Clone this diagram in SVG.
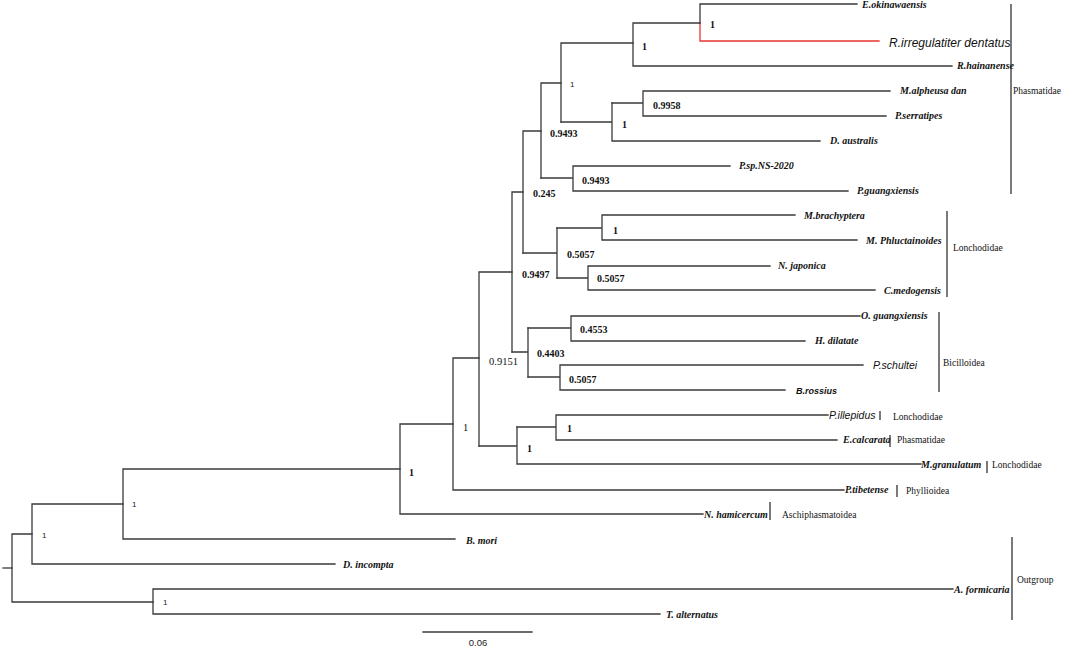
<svg xmlns="http://www.w3.org/2000/svg" width="1065" height="651" viewBox="0 0 1065 651">
<style>
.br{stroke:#3a3a3a;stroke-width:1.3;fill:none;stroke-linecap:square}
.red{stroke:#e8342f}
.bar{stroke:#222;stroke-width:1.2}
.tx{font-family:"Liberation Serif",serif;font-style:italic;font-weight:bold;font-size:10px;fill:#111}
.sx{font-family:"Liberation Sans",sans-serif;font-style:italic;font-size:10.5px;fill:#111}
.big{font-size:12px}
.bsx{font-weight:bold;font-size:9px}
.sup{font-family:"Liberation Serif",serif;font-weight:bold;font-size:10px;fill:#111}
.supr{font-family:"Liberation Serif",serif;font-size:10.5px;fill:#111}
.ss{font-family:"Liberation Sans",sans-serif;font-size:8px;fill:#222}
.grp{font-family:"Liberation Serif",serif;font-size:9.5px;fill:#111}
</style>
<rect width="1065" height="651" fill="#fff"/>
<g id="connectors">
<path class="br" d="M700,23V4H857"/>
<path class="br red" d="M700,23V41H879"/>
<path class="br" d="M633,23H700M633,23V66H952"/>
<path class="br" d="M561,43H633M561,43V122"/>
<path class="br" d="M643,91H890M643,91V116H886M612,103H643"/>
<path class="br" d="M612,103V141H820M561,122H612"/>
<path class="br" d="M541,83H561M541,83V178"/>
<path class="br" d="M573,166H730M573,166V191H848M541,178H573"/>
<path class="br" d="M523,131H541M523,131V253"/>
<path class="br" d="M602,215H795M602,215V240H857M557,228H602"/>
<path class="br" d="M588,266H770M588,266V290H875M557,278H588"/>
<path class="br" d="M557,228V278M523,253H557"/>
<path class="br" d="M512,192H523M512,192V352"/>
<path class="br" d="M571,316H860M571,316V341H805M528,328H571"/>
<path class="br" d="M560,365H863M560,365V390H785M528,377H560"/>
<path class="br" d="M528,328V377M512,352H528"/>
<path class="br" d="M479,272H512M479,272V446"/>
<path class="br" d="M556,415H828M556,415V440H837M517,427H556"/>
<path class="br" d="M517,427V464H921M479,446H517"/>
<path class="br" d="M453,358H479M453,358V490H844"/>
<path class="br" d="M400,424H453M400,424V514H703"/>
<path class="br" d="M123,469H400M123,469V539H455"/>
<path class="br" d="M32,504H123M32,504V564H335"/>
<path class="br" d="M12,534H32M12,534V602H153"/>
<path class="br" d="M153,589H953M153,589V614H660"/>
<path class="br" d="M3,568H12"/>
</g>
<g id="taxa">
<text class="tx" x="862" y="8">E.okinawaensis</text>
<text class="sx big" x="889" y="47">R.irregulatiter dentatus</text>
<text class="tx" x="957" y="69">R.hainanense</text>
<text class="tx" x="900" y="94">M.alpheusa dan</text>
<text class="tx" x="895" y="119">P.serratipes</text>
<text class="tx" x="830" y="144">D. australis</text>
<text class="tx" x="739" y="169">P.sp.NS-2020</text>
<text class="tx" x="857" y="194">P.guangxiensis</text>
<text class="tx" x="804" y="219">M.brachyptera</text>
<text class="tx" x="866" y="244">M. Phluctainoides</text>
<text class="tx" x="778" y="269">N. japonica</text>
<text class="tx" x="884" y="294">C.medogensis</text>
<text class="tx" x="861" y="319">O. guangxiensis</text>
<text class="tx" x="815" y="344">H. dilatate</text>
<text class="sx" x="873" y="369">P.schultei</text>
<text class="sx bsx" x="796" y="394">B.rossius</text>
<text class="sx" x="829" y="419">P.illepidus</text>
<text class="tx" x="843" y="443">E.calcarata</text>
<text class="tx" x="921" y="468">M.granulatum</text>
<text class="tx" x="845" y="493">P.tibetense</text>
<text class="tx" x="704" y="518">N. hamicercum</text>
<text class="tx" x="466" y="544">B. mori</text>
<text class="tx" x="343" y="568">D. incompta</text>
<text class="tx" x="954" y="593">A. formicaria</text>
<text class="tx" x="666" y="618">T. alternatus</text>
</g>
<g id="support">
<text class="sup" x="710" y="28">1</text>
<text class="sup" x="642" y="50">1</text>
<text class="sup" x="653" y="109">0.9958</text>
<text class="sup" x="622" y="128">1</text>
<text class="ss" x="570" y="87">1</text>
<text class="sup" x="582" y="184">0.9493</text>
<text class="sup" x="550" y="137">0.9493</text>
<text class="sup" x="613" y="234">1</text>
<text class="sup" x="597" y="282">0.5057</text>
<text class="sup" x="567" y="258">0.5057</text>
<text class="sup" x="533" y="197">0.245</text>
<text class="sup" x="580" y="333">0.4553</text>
<text class="sup" x="569" y="383">0.5057</text>
<text class="sup" x="537" y="357">0.4403</text>
<text class="sup" x="522" y="278">0.9497</text>
<text class="sup" x="567" y="432">1</text>
<text class="sup" x="527" y="452">1</text>
<text class="supr" x="489" y="365">0.9151</text>
<text class="supr" x="463" y="431">1</text>
<text class="sup" x="409" y="476">1</text>
<text class="ss" x="132" y="507">1</text>
<text class="ss" x="42" y="538">1</text>
<text class="ss" x="163" y="605">1</text>
</g>
<g id="groups">
<path class="bar" d="M1011,4V194M947,211V297M939,312V392M880,411V420M890,435V447M987,461V473M897,485V497M770,502V520M1012,537V620"/>
<text class="grp" x="1013" y="94">Phasmatidae</text>
<text class="grp" x="953" y="251">Lonchodidae</text>
<text class="grp" x="943" y="366">Bicilloidea</text>
<text class="grp" x="893" y="420">Lonchodidae</text>
<text class="grp" x="897" y="443">Phasmatidae</text>
<text class="grp" x="992" y="468">Lonchodidae</text>
<text class="grp" x="906" y="494">Phyllioidea</text>
<text class="grp" x="782" y="518">Aschiphasmatoidea</text>
<text class="grp" x="1017" y="583">Outgroup</text>
</g>
<g id="scale">
<path class="br" d="M423,632H532"/>
<text x="478" y="646" text-anchor="middle" font-family="Liberation Sans,sans-serif" font-size="9.5px" fill="#222">0.06</text>
</g>
</svg>
